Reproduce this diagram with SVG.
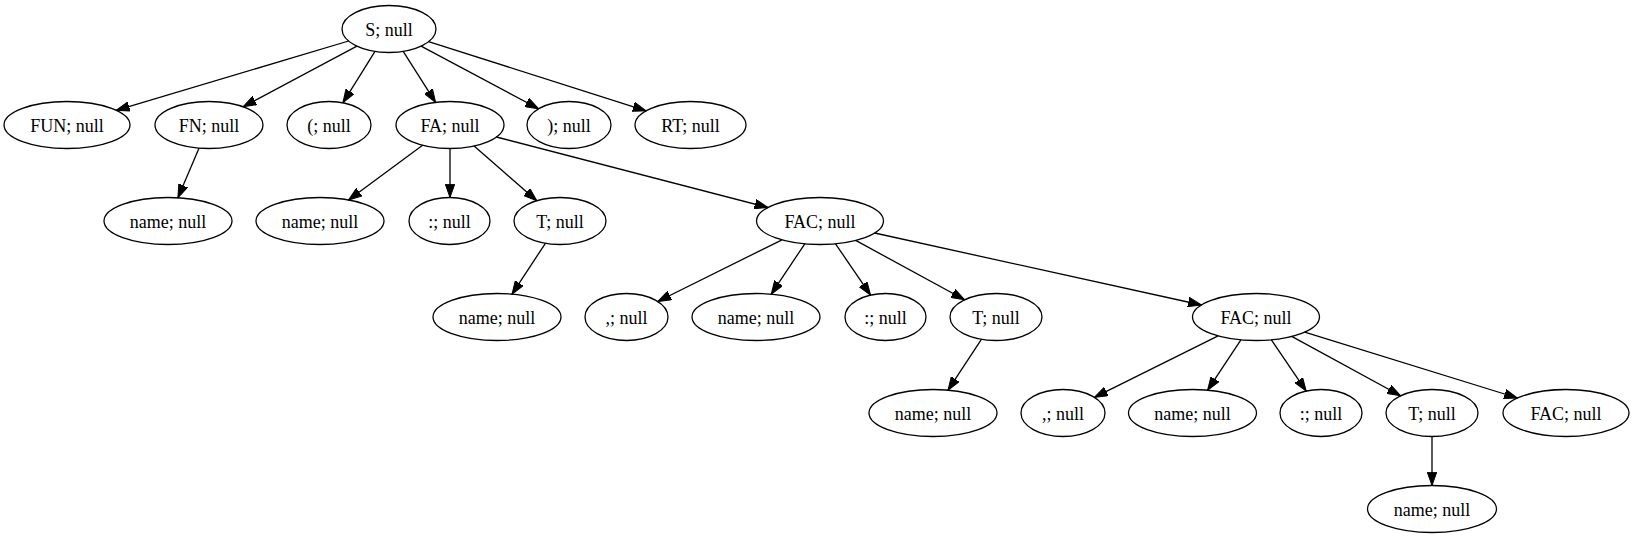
<svg xmlns="http://www.w3.org/2000/svg" width="1634" height="539" viewBox="0 0 1634 539">
<style>
  .node ellipse { fill: none; stroke: #000; stroke-width: 1.3; }
  .node text { font-family: "Liberation Serif", "Times New Roman", serif; font-size: 18px; text-anchor: middle; fill: #000; }
  .edges line { stroke: #000; stroke-width: 1.3; marker-end: url(#arrow); }
</style>
<defs>
  <marker id="arrow" markerUnits="userSpaceOnUse" viewBox="0 0 14 10" markerWidth="14" markerHeight="10" refX="13.3" refY="5" orient="auto">
    <path d="M0,0.3 L13.3,5 L0,9.7 Z" fill="#000" stroke="#000" stroke-width="1"/>
  </marker>
</defs>
<rect width="1634" height="539" fill="#fff"/>
<g id="edges" class="edges">
  <line x1="348.6" y1="41" x2="116.2" y2="110.3"/>
  <line x1="356.9" y1="46.1" x2="243.1" y2="106.8"/>
  <line x1="375" y1="51.4" x2="342.9" y2="102.8"/>
  <line x1="403.2" y1="51.4" x2="435.6" y2="102.4"/>
  <line x1="421.1" y1="46.1" x2="538.6" y2="108.8"/>
  <line x1="428.6" y1="41.6" x2="646.1" y2="110.9"/>
  <line x1="199.1" y1="148.1" x2="177.9" y2="197.8"/>
  <line x1="422.6" y1="145.2" x2="348.5" y2="200"/>
  <line x1="450" y1="148.5" x2="450" y2="197.5"/>
  <line x1="474.1" y1="146" x2="536.8" y2="200.7"/>
  <line x1="496.4" y1="137" x2="768" y2="207.5"/>
  <line x1="545.4" y1="243.3" x2="512" y2="294.2"/>
  <line x1="782" y1="239.8" x2="657.7" y2="301.5"/>
  <line x1="804.8" y1="243.8" x2="771.2" y2="294.2"/>
  <line x1="835.5" y1="243.8" x2="870.6" y2="295.2"/>
  <line x1="855.7" y1="240.4" x2="964.6" y2="299.8"/>
  <line x1="874.6" y1="233" x2="1201.4" y2="305"/>
  <line x1="981.4" y1="339.3" x2="948" y2="390.2"/>
  <line x1="1218.1" y1="335.9" x2="1094.4" y2="397.4"/>
  <line x1="1240.9" y1="339.8" x2="1207.6" y2="390.2"/>
  <line x1="1271.4" y1="339.8" x2="1306.2" y2="391.1"/>
  <line x1="1291.7" y1="336.4" x2="1400.6" y2="395.8"/>
  <line x1="1304.7" y1="332.1" x2="1517.5" y2="398"/>
  <line x1="1432" y1="436.5" x2="1432" y2="485.5"/>
</g>
<g id="n0" class="node"><ellipse cx="389" cy="29" rx="47" ry="23.5"/><text x="389" y="35.5">S; null</text></g>
<g id="n1" class="node"><ellipse cx="67" cy="125" rx="63" ry="23.5"/><text x="67" y="131.5">FUN; null</text></g>
<g id="n2" class="node"><ellipse cx="209" cy="125" rx="54" ry="23.5"/><text x="209" y="131.5">FN; null</text></g>
<g id="n3" class="node"><ellipse cx="329" cy="125" rx="42" ry="23.5"/><text x="329" y="131.5">(; null</text></g>
<g id="n4" class="node"><ellipse cx="450" cy="125" rx="54" ry="23.5"/><text x="450" y="131.5">FA; null</text></g>
<g id="n5" class="node"><ellipse cx="569" cy="125" rx="42" ry="23.5"/><text x="569" y="131.5">); null</text></g>
<g id="n6" class="node"><ellipse cx="690.5" cy="125" rx="55.5" ry="23.5"/><text x="690.5" y="131.5">RT; null</text></g>
<g id="n7" class="node"><ellipse cx="168" cy="221" rx="64" ry="23.5"/><text x="168" y="227.5">name; null</text></g>
<g id="n8" class="node"><ellipse cx="320" cy="221" rx="64" ry="23.5"/><text x="320" y="227.5">name; null</text></g>
<g id="n9" class="node"><ellipse cx="449.5" cy="221" rx="40.5" ry="23.5"/><text x="449.5" y="227.5">:; null</text></g>
<g id="n10" class="node"><ellipse cx="560" cy="221" rx="46" ry="23.5"/><text x="560" y="227.5">T; null</text></g>
<g id="n11" class="node"><ellipse cx="820" cy="221" rx="63.5" ry="23.5"/><text x="820" y="227.5">FAC; null</text></g>
<g id="n12" class="node"><ellipse cx="497" cy="317" rx="64" ry="23.5"/><text x="497" y="323.5">name; null</text></g>
<g id="n13" class="node"><ellipse cx="626.5" cy="317" rx="41.5" ry="23.5"/><text x="626.5" y="323.5">,; null</text></g>
<g id="n14" class="node"><ellipse cx="756" cy="317" rx="64" ry="23.5"/><text x="756" y="323.5">name; null</text></g>
<g id="n15" class="node"><ellipse cx="885.5" cy="317" rx="40.5" ry="23.5"/><text x="885.5" y="323.5">:; null</text></g>
<g id="n16" class="node"><ellipse cx="996" cy="317" rx="46" ry="23.5"/><text x="996" y="323.5">T; null</text></g>
<g id="n17" class="node"><ellipse cx="1256" cy="317" rx="63.5" ry="23.5"/><text x="1256" y="323.5">FAC; null</text></g>
<g id="n18" class="node"><ellipse cx="933" cy="413" rx="64" ry="23.5"/><text x="933" y="419.5">name; null</text></g>
<g id="n19" class="node"><ellipse cx="1063" cy="413" rx="42" ry="23.5"/><text x="1063" y="419.5">,; null</text></g>
<g id="n20" class="node"><ellipse cx="1192.5" cy="413" rx="64" ry="23.5"/><text x="1192.5" y="419.5">name; null</text></g>
<g id="n21" class="node"><ellipse cx="1321" cy="413" rx="41" ry="23.5"/><text x="1321" y="419.5">:; null</text></g>
<g id="n22" class="node"><ellipse cx="1432" cy="413" rx="46" ry="23.5"/><text x="1432" y="419.5">T; null</text></g>
<g id="n23" class="node"><ellipse cx="1566" cy="413" rx="63" ry="23.5"/><text x="1566" y="419.5">FAC; null</text></g>
<g id="n24" class="node"><ellipse cx="1432" cy="509" rx="64.5" ry="23.5"/><text x="1432" y="515.5">name; null</text></g>
</svg>
